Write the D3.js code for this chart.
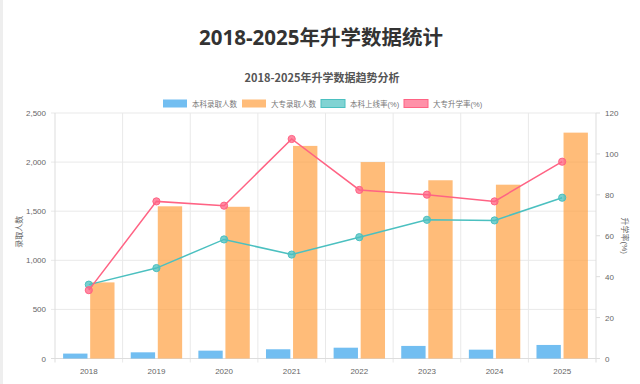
<!DOCTYPE html>
<html>
<head>
<meta charset="utf-8">
<script src="https://cdn.jsdelivr.net/npm/d3@7/dist/d3.min.js"></script>
<style>
html,body{margin:0;padding:0;background:#fff;}
svg{display:block;}
</style>
</head>
<body>
<svg id="chart" width="640" height="384"></svg>
<script>
const years = ["2018","2019","2020","2021","2022","2023","2024","2025"];
const undergradAdmit = [50, 63, 80, 94, 110, 128, 90, 138];
const collegeAdmit = [775, 1550, 1545, 2165, 2000, 1815, 1770, 2300];
const undergradRate = [36.1, 44.2, 58.2, 50.8, 59.3, 67.8, 67.5, 78.6];
const collegeRate = [33.4, 76.8, 74.7, 107.3, 82.4, 80.1, 76.8, 96.2];
const leftTicks = [0, 500, 1000, 1500, 2000, 2500];
const rightTicks = [0, 20, 40, 60, 80, 100, 120];
const seriesNames = ["本科录取人数", "大专录取人数", "本科上线率(%)", "大专升学率(%)"];

const svg = d3.select("#chart");
const W = 640, H = 384;
const m = {left: 55, right: 596, top: 113, bottom: 358.5};
const font = "'Liberation Sans','Noto Sans CJK SC',sans-serif";
const cjk = "'Noto Sans CJK SC','Liberation Sans',sans-serif";

svg.append("rect").attr("x",0).attr("y",0).attr("width",3).attr("height",H).attr("fill","#eeeeee");

svg.append("text").attr("x",321).attr("y",45).attr("text-anchor","middle")
  .attr("font-family","'Open Sans','Noto Sans CJK SC',sans-serif").attr("font-weight","bold")
  .attr("font-size",20.5).attr("fill","#333").text("2018-2025年升学数据统计");

svg.append("text").attr("x",322).attr("y",82).attr("text-anchor","middle")
  .attr("font-family",cjk).attr("font-weight","bold")
  .attr("font-size",11).attr("fill","#555").text("2018-2025年升学数据趋势分析");

const x = d3.scaleBand().domain(years).range([m.left, m.right]).paddingInner(0).paddingOuter(0);
const yL = d3.scaleLinear().domain([0,2500]).range([m.bottom, m.top]);
const yR = d3.scaleLinear().domain([0,120]).range([m.bottom, m.top]);

const grid = svg.append("g");
grid.selectAll("line.h").data(leftTicks).enter().append("line")
  .attr("x1",m.left-4).attr("x2",m.right).attr("y1",d=>yL(d)).attr("y2",d=>yL(d))
  .attr("stroke","#e9e9e9").attr("stroke-width",1);
const bounds = years.map(y=>x(y)).concat([m.right]);
grid.selectAll("line.v").data(bounds.slice(1,-1)).enter().append("line")
  .attr("x1",d=>d).attr("x2",d=>d).attr("y1",m.top).attr("y2",m.bottom+4)
  .attr("stroke","#e9e9e9").attr("stroke-width",1);
svg.append("line").attr("x1",m.left).attr("x2",m.left).attr("y1",m.top).attr("y2",m.bottom+4)
  .attr("stroke","#dddddd");
svg.append("line").attr("x1",m.right).attr("x2",m.right).attr("y1",m.top).attr("y2",m.bottom+4)
  .attr("stroke","#dddddd");
svg.append("line").attr("x1",m.left-4).attr("x2",m.right).attr("y1",m.bottom).attr("y2",m.bottom)
  .attr("stroke","#dddddd");
svg.selectAll("line.rt").data(rightTicks).enter().append("line")
  .attr("x1",m.right).attr("x2",m.right+4).attr("y1",d=>yR(d)).attr("y2",d=>yR(d))
  .attr("stroke","#dddddd");

const fmt = d3.format(",");
svg.selectAll("text.lt").data(leftTicks).enter().append("text")
  .attr("x",m.left-9).attr("y",d=>yL(d)+3).attr("text-anchor","end")
  .attr("font-family",font).attr("font-size",8).attr("fill","#666").text(d=>fmt(d));
svg.selectAll("text.rtl").data(rightTicks).enter().append("text")
  .attr("x",m.right+9).attr("y",d=>yR(d)+3).attr("text-anchor","start")
  .attr("font-family",font).attr("font-size",8).attr("fill","#666").text(d=>d);
svg.selectAll("text.xt").data(years).enter().append("text")
  .attr("x",d=>x(d)+x.bandwidth()/2).attr("y",m.bottom+15).attr("text-anchor","middle")
  .attr("font-family",font).attr("font-size",8).attr("fill","#666").text(d=>d);

svg.append("text").attr("transform",`translate(22,${(m.top+m.bottom)/2 - 4}) rotate(-90)`)
  .attr("text-anchor","middle").attr("font-family",cjk).attr("font-size",8).attr("fill","#666").text("录取人数");
svg.append("text").attr("transform",`translate(622,${(m.top+m.bottom)/2}) rotate(90)`)
  .attr("text-anchor","middle").attr("font-family",font).attr("font-size",8).attr("fill","#666").text("升学率(%)");

const inner = d3.scaleBand().domain([0,1]).range([0, x.bandwidth()*0.8]).paddingInner(0.1).paddingOuter(0.05);
const off = x.bandwidth()*0.1;
const barColors = ["rgba(54,162,235,0.7)", "rgba(255,159,64,0.7)"];
[undergradAdmit, collegeAdmit].forEach((vals,i)=>{
  svg.append("g").selectAll("rect").data(vals).enter().append("rect")
    .attr("x",(d,j)=>x(years[j])+off+inner(i))
    .attr("width",inner.bandwidth())
    .attr("y",d=>yL(d)).attr("height",d=>m.bottom-yL(d))
    .attr("fill",barColors[i]);
});

const lineDefs = [
  {vals: undergradRate, stroke:"rgb(75,192,192)", fill:"rgba(75,192,192,0.75)"},
  {vals: collegeRate, stroke:"rgb(255,99,132)", fill:"rgba(255,99,132,0.75)"}
];
lineDefs.forEach(def=>{
  const line = d3.line().x((d,j)=>x(years[j])+x.bandwidth()/2).y(d=>yR(d));
  svg.append("path").datum(def.vals).attr("d",line).attr("fill","none")
    .attr("stroke",def.stroke).attr("stroke-width",1.5);
  svg.append("g").selectAll("circle").data(def.vals).enter().append("circle")
    .attr("cx",(d,j)=>x(years[j])+x.bandwidth()/2).attr("cy",d=>yR(d)).attr("r",3.6)
    .attr("fill",def.fill).attr("stroke",def.stroke).attr("stroke-width",1);
});

const legend = [
  {name: seriesNames[0], x:163, fill:"rgba(54,162,235,0.7)", stroke:"none"},
  {name: seriesNames[1], x:242, fill:"rgba(255,159,64,0.7)", stroke:"none"},
  {name: seriesNames[2], x:321, fill:"rgba(75,192,192,0.7)", stroke:"rgb(75,192,192)"},
  {name: seriesNames[3], x:404, fill:"rgba(255,99,132,0.7)", stroke:"rgb(255,99,132)"}
];
const lg = svg.append("g");
legend.forEach(l=>{
  lg.append("rect").attr("x",l.x).attr("y",99.5).attr("width",24).attr("height",8)
    .attr("fill",l.fill).attr("stroke",l.stroke).attr("stroke-width",1);
  lg.append("text").attr("x",l.x+29).attr("y",106.5).attr("font-family",font)
    .attr("font-size",7.5).attr("fill","#777").text(l.name);
});
</script>
</body>
</html>
